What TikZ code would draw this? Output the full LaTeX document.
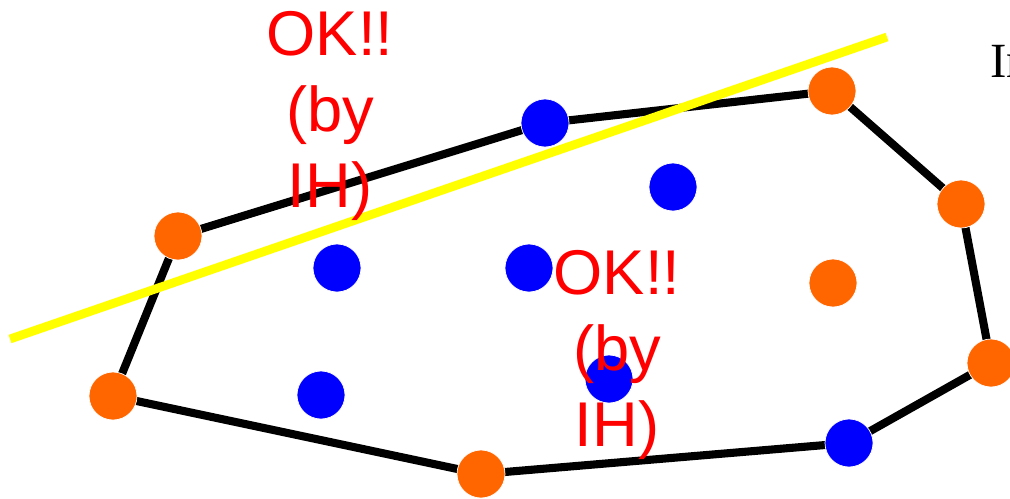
\documentclass[tikz,border=0pt]{standalone}
\usepackage{fontspec}
\usepackage{tikz}
\usepackage{xcolor}
\setmainfont{Liberation Serif}
\newfontfamily\notefont{Liberation Sans}
\definecolor{ptorange}{RGB}{255,102,0}
\definecolor{ptblue}{RGB}{0,0,255}
\definecolor{cutline}{RGB}{255,255,0}
\tikzset{
  pt/.style={circle,draw=white,line width=0.4pt,minimum size=0.96cm,inner sep=0pt},
  hullpt/.style={pt,fill=ptorange},
  inpt/.style={pt,fill=ptblue},
  note/.style={text=red,align=center,font=\notefont\fontsize{36}{43}\selectfont}
}

\begin{document}
\begin{tikzpicture}[x=0.02cm,y=-0.02cm]
        \useasboundingbox (0,0) rectangle (1010,498);
        \clip (0,0) rectangle (1010,498);
        % point positions
        \coordinate (o1) at (178,236); \coordinate (b1) at (545,123);
        \coordinate (o2) at (832,91);  \coordinate (o3) at (961,204);
        \coordinate (o4) at (991,363); \coordinate (b2) at (849,443);
        \coordinate (o5) at (481,474); \coordinate (o6) at (113,396);
        % hull
        \draw[line width=4.6pt,line join=round]
              (o1) -- (b1) -- (o2) -- (o3) -- (o4) -- (b2) -- (o5) -- (o6) -- cycle;
        % splitting line
        \coordinate (cutL) at (10,339); \coordinate (cutR) at (887,37);
        \draw[cutline,line width=5pt] (cutL) -- (cutR);
        % points on the hull
        \node[hullpt] (p1) at (o1) {}; \node[inpt] (p2) at (b1) {};
        \node[hullpt] (p3) at (o2) {}; \node[hullpt] (p4) at (o3) {};
        \node[hullpt] (p5) at (o4) {}; \node[inpt] (p6) at (b2) {};
        \node[hullpt] (p7) at (o5) {}; \node[hullpt] (p8) at (o6) {};
        % points inside
        \node[inpt] (q1) at (673,187) {};
        \node[inpt] (q2) at (337,268) {};
        \node[inpt] (q3) at (529,268) {};
        \node[hullpt] (q4) at (833,283) {};
        \node[inpt] (q5) at (321,395) {};
        \node[inpt] (q6) at (609,379) {};
        % labels
        \node[note] (okA) at (330,116) {OK!!\\(by\\IH)};
        \node[note] (okB) at (617,355) {OK!!\\(by\\IH)};
        \node[anchor=base west,font=\fontsize{28}{30}\selectfont] (word) at (984,77) {In};
      \end{tikzpicture}
\end{document}
